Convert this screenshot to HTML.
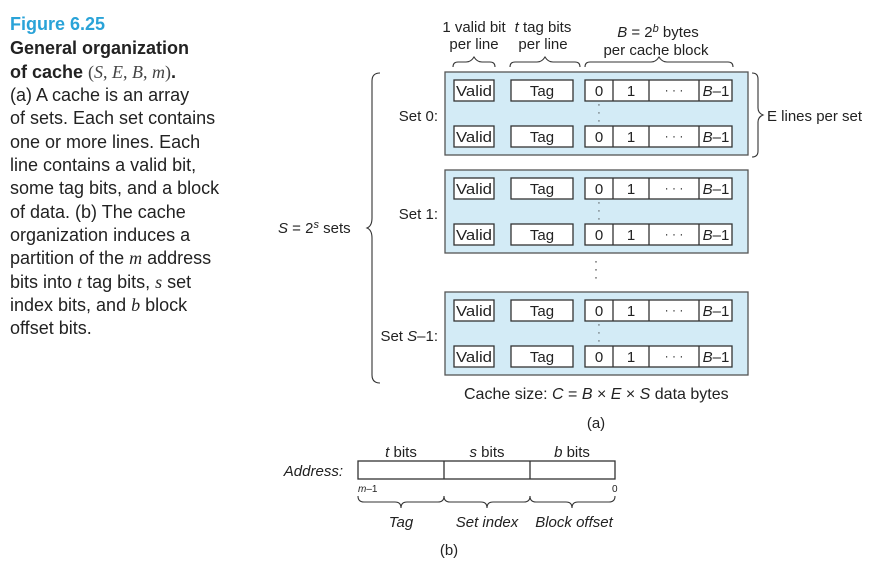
<!DOCTYPE html>
<html><head><meta charset="utf-8"><style>
body{margin:0;background:#fff;width:882px;height:569px;overflow:hidden}
svg{position:absolute;left:0;top:0}
text{font-family:"Liberation Sans",sans-serif}
</style></head><body>
<svg width="882" height="569" viewBox="0 0 882 569">
<defs>
<g id="row">
<rect x="454" y="0" width="40" height="21" fill="#fff" stroke="#333" stroke-width="1.3"/>
<text x="474" y="16" font-size="15" text-anchor="middle" fill="#222" textLength="36" lengthAdjust="spacingAndGlyphs">Valid</text>
<rect x="511" y="0" width="62" height="21" fill="#fff" stroke="#333" stroke-width="1.3"/>
<text x="542" y="16" font-size="15" text-anchor="middle" fill="#222">Tag</text>
<rect x="585" y="0" width="147" height="21" fill="#fff" stroke="#333" stroke-width="1.3"/>
<line x1="613" y1="0" x2="613" y2="21" stroke="#333" stroke-width="1.3"/>
<line x1="649" y1="0" x2="649" y2="21" stroke="#333" stroke-width="1.3"/>
<line x1="699" y1="0" x2="699" y2="21" stroke="#333" stroke-width="1.3"/>
<text x="599" y="16" font-size="15" text-anchor="middle" fill="#222">0</text>
<text x="631" y="16" font-size="15" text-anchor="middle" fill="#222">1</text>
<text x="674" y="14" font-size="12" text-anchor="middle" fill="#222">· · ·</text>
<text x="716" y="16" font-size="15" text-anchor="middle" fill="#222" font-style="italic">B<tspan font-style="normal">–1</tspan></text>
</g>
<g id="set">
<rect x="445" y="0" width="303" height="83" fill="#d3ebf6" stroke="#555" stroke-width="1.3"/>
<use href="#row" y="8"/>
<use href="#row" y="54"/>
<text x="599" y="36" font-size="11" text-anchor="middle" fill="#333">·</text>
<text x="599" y="44" font-size="11" text-anchor="middle" fill="#333">·</text>
<text x="599" y="52" font-size="11" text-anchor="middle" fill="#333">·</text>
</g>
</defs>
<g font-size="18" fill="#222">
<text x="10" y="30" fill="#2aa3d8" font-weight="bold">Figure 6.25</text>
<text x="10" y="54" font-weight="bold">General organization</text>
<text x="10" y="78" font-weight="bold">of cache <tspan font-family="Liberation Serif" font-weight="normal" fill="#444">(<tspan font-style="italic">S</tspan>, <tspan font-style="italic">E</tspan>, <tspan font-style="italic">B</tspan>, <tspan font-style="italic">m</tspan>)</tspan>.</text>
<text x="10" y="101">(a) A cache is an array</text>
<text x="10" y="124">of sets. Each set contains</text>
<text x="10" y="148">one or more lines. Each</text>
<text x="10" y="171">line contains a valid bit,</text>
<text x="10" y="194">some tag bits, and a block</text>
<text x="10" y="218">of data. (b) The cache</text>
<text x="10" y="241">organization induces a</text>
<text x="10" y="264">partition of the <tspan font-family="Liberation Serif" font-style="italic">m</tspan> address</text>
<text x="10" y="288">bits into <tspan font-family="Liberation Serif" font-style="italic">t</tspan> tag bits, <tspan font-family="Liberation Serif" font-style="italic">s</tspan> set</text>
<text x="10" y="311">index bits, and <tspan font-family="Liberation Serif" font-style="italic">b</tspan> block</text>
<text x="10" y="334">offset bits.</text>
</g>
<g font-size="15" fill="#222" text-anchor="middle">
<text x="474" y="32">1 valid bit</text><text x="474" y="49">per line</text>
<text x="543" y="32"><tspan font-style="italic">t</tspan> tag bits</text><text x="543" y="49">per line</text>
<text x="658" y="37"><tspan font-style="italic">B</tspan> = 2<tspan font-style="italic" dy="-5" font-size="11">b</tspan><tspan dy="5"> bytes</tspan></text>
<text x="656" y="55">per cache block</text>
</g>
<g fill="none" stroke="#333" stroke-width="1.1">
<path d="M453,67 q0,-5 5,-5 h8 q5,0 8,-5 q3,5 8,5 h8 q5,0 5,5"/>
<path d="M510,67 q0,-5 5,-5 h22 q5,0 8,-5 q3,5 8,5 h22 q5,0 5,5"/>
<path d="M585,67 q0,-5 5,-5 h61 q5,0 8,-5 q3,5 8,5 h61 q5,0 5,5"/>
<path d="M380,73 q-8,0 -8,8 v137 q0,8 -5,10 q5,2 5,10 v137 q0,8 8,8"/>
<path d="M752,73 q6,0 6,6 v29 q0,5 5,7 q-5,2 -5,7 v29 q0,6 -6,6"/>
<path d="M358,496 q0,6 6,6 H395 q6,0 6,6 q0,-6 6,-6 H438 q6,0 6,-6"/>
<path d="M444,496 q0,6 6,6 H481 q6,0 6,6 q0,-6 6,-6 H524 q6,0 6,-6"/>
<path d="M530,496 q0,6 6,6 H566 q6,0 6,6 q0,-6 6,-6 H609 q6,0 6,-6"/>
</g>
<use href="#set" y="72"/>
<use href="#set" y="170"/>
<use href="#set" y="292"/>
<g font-size="15" fill="#222">
<text x="438" y="121" text-anchor="end">Set 0:</text>
<text x="438" y="219" text-anchor="end">Set 1:</text>
<text x="438" y="341" text-anchor="end">Set <tspan font-style="italic">S</tspan>–1:</text>
<text x="767" y="121">E lines per set</text>
<text x="278" y="233"><tspan font-style="italic">S</tspan> = 2<tspan font-style="italic" dy="-5" font-size="11">s</tspan><tspan dy="5"> sets</tspan></text>
<text x="596" y="265" font-size="12" text-anchor="middle">·</text>
<text x="596" y="273" font-size="12" text-anchor="middle">·</text>
<text x="596" y="281" font-size="12" text-anchor="middle">·</text>
<text x="464" y="399" font-size="16">Cache size:  <tspan font-style="italic">C</tspan> = <tspan font-style="italic">B</tspan> × <tspan font-style="italic">E</tspan> × <tspan font-style="italic">S</tspan> data bytes</text>
<text x="596" y="428" text-anchor="middle">(a)</text>
<text x="401" y="457" text-anchor="middle"><tspan font-style="italic">t</tspan> bits</text>
<text x="487" y="457" text-anchor="middle"><tspan font-style="italic">s</tspan> bits</text>
<text x="572" y="457" text-anchor="middle"><tspan font-style="italic">b</tspan> bits</text>
<text x="343" y="476" text-anchor="end" font-style="italic">Address:</text>
<text x="358" y="492" font-size="10" font-style="italic">m<tspan font-style="normal">–1</tspan></text>
<text x="612" y="492" font-size="10">0</text>
<text x="401" y="527" text-anchor="middle" font-style="italic">Tag</text>
<text x="487" y="527" text-anchor="middle" font-style="italic">Set index</text>
<text x="574" y="527" text-anchor="middle" font-style="italic">Block offset</text>
<text x="449" y="555" text-anchor="middle">(b)</text>
</g>
<rect x="358" y="461" width="257" height="18" fill="#fff" stroke="#333" stroke-width="1.3"/>
<line x1="444" y1="461" x2="444" y2="479" stroke="#333" stroke-width="1.3"/>
<line x1="530" y1="461" x2="530" y2="479" stroke="#333" stroke-width="1.3"/>
</svg>
</body></html>
